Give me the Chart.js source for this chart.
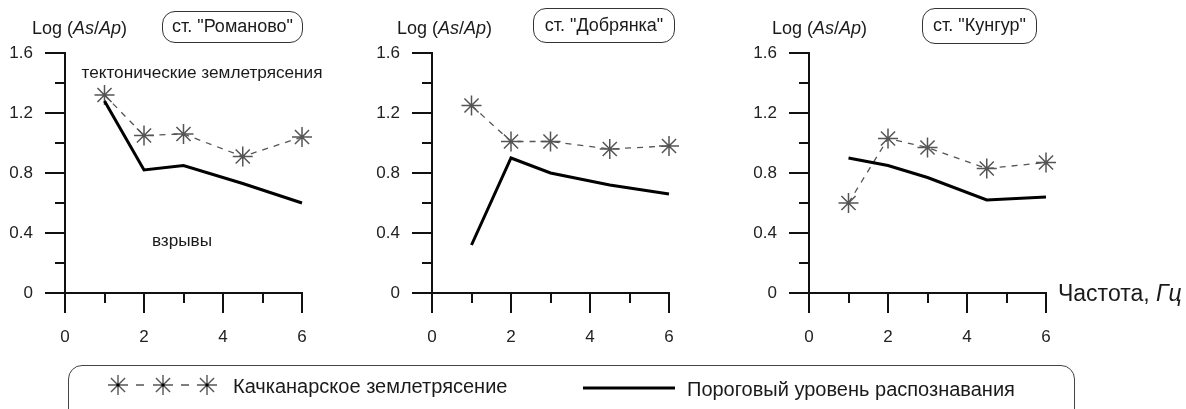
<!DOCTYPE html>
<html>
<head>
<meta charset="utf-8">
<script src="https://cdn.jsdelivr.net/npm/chart.js@4.4.0/dist/chart.umd.min.js"></script>
<style>
    body { margin: 0; background: #fff; }
    #wrap { position: relative; width: 1186px; height: 409px; overflow: hidden; font-family: "Liberation Sans", Arial, sans-serif; color: #1a1a1a; }
    canvas.panel { position: absolute; top: 0; }
    .txt { position: absolute; white-space: nowrap; }
    .ylab { font-size: 18px; line-height: 21px; top: 18px; }
    .station { position: absolute; border: 1.5px solid #333; border-radius: 13px; font-size: 18px; text-align: center; box-sizing: border-box; }
    .note { font-size: 17.2px; transform: translate(-50%, -50%); }
    #legendBox { position: absolute; left: 68px; top: 365px; width: 1007px; height: 70px; border: 1.5px solid #444; border-radius: 14px; box-sizing: border-box; }
    .leg { font-size: 20px; line-height: 24px; }
</style>
</head>
<body>
<div id="wrap">
    <canvas class="panel" id="p1" width="360" height="350" style="left:0px"></canvas>
    <canvas class="panel" id="p2" width="360" height="350" style="left:367px"></canvas>
    <canvas class="panel" id="p3" width="360" height="350" style="left:744px"></canvas>

    <div class="txt ylab" style="left:32px">Log (<i>As</i>/<i>Ap</i>)</div>
    <div class="txt ylab" style="left:397px">Log (<i>As</i>/<i>Ap</i>)</div>
    <div class="txt ylab" style="left:772px">Log (<i>As</i>/<i>Ap</i>)</div>

    <div class="station" style="left:162px; top:11px; width:141px; height:32px; line-height:29px">ст. "Романово"</div>
    <div class="station" style="left:533px; top:8px; width:142px; height:35px; line-height:32px">ст. "Добрянка"</div>
    <div class="station" style="left:922px; top:8px; width:115px; height:36px; line-height:33px">ст. "Кунгур"</div>

    <div class="txt note" style="left:202px; top:72px">тектонические землетрясения</div>
    <div class="txt note" style="left:182px; top:240px">взрывы</div>

    <div class="txt" style="left:1058px; top:279px; font-size:23px; line-height:28px">Частота, <i>Гц</i></div>

    <div id="legendBox"></div>
    <canvas id="legMarks" width="700" height="49" style="position:absolute; left:0px; top:360px"></canvas>
    <div class="txt leg" style="left:233px; top:374px">Качканарское землетрясение</div>
    <div class="txt leg" style="left:687px; top:377px">Пороговый уровень распознавания</div>
</div>

<script>
    // frequencies, Hz
    const freqs = [1, 2, 3, 4.5, 6];

    // ст. "Романово"
    const romanovoQuake = [1.32, 1.05, 1.06, 0.91, 1.04];
    const romanovoLevel = [1.28, 0.82, 0.85, 0.73, 0.60];

    // ст. "Добрянка"
    const dobryankaQuake = [1.25, 1.01, 1.01, 0.96, 0.98];
    const dobryankaLevel = [0.32, 0.90, 0.80, 0.72, 0.66];

    // ст. "Кунгур"
    const kungurQuake = [0.60, 1.03, 0.97, 0.83, 0.87];
    const kungurLevel = [0.90, 0.85, 0.77, 0.62, 0.64];

    const yTicks = [0, 0.4, 0.8, 1.2, 1.6];
    const xTicks = [0, 2, 4, 6];

    const FONT = '"Liberation Sans", Arial, sans-serif';
    const AXIS = '#111';

    function isMajorY(v) {
        return yTicks.some(t => Math.abs(t - v) < 1e-6);
    }

    function isMajorX(v) {
        return xTicks.some(t => Math.abs(t - v) < 1e-6);
    }

    function pts(values) {
        return freqs.map((f, i) => ({x: f, y: values[i]}));
    }

    // short ticks between the labelled ones
    const minorTicks = {
        id: 'minorTicks',
        afterDraw(chart) {
            const ctx = chart.ctx;
            const xs = chart.scales.x, ys = chart.scales.y;
            const area = chart.chartArea;
            ctx.save();
            ctx.strokeStyle = AXIS;
            ctx.lineWidth = 2;
            ys.ticks.forEach(t => {
                if (isMajorY(t.value)) return;
                let py = Math.round(ys.getPixelForValue(t.value));
                ctx.beginPath();
                ctx.moveTo(area.left - 10, py);
                ctx.lineTo(area.left, py);
                ctx.stroke();
            });
            xs.ticks.forEach(t => {
                if (isMajorX(t.value)) return;
                let px = Math.round(xs.getPixelForValue(t.value));
                ctx.beginPath();
                ctx.moveTo(px, area.bottom);
                ctx.lineTo(px, area.bottom + 10);
                ctx.stroke();
            });
            ctx.restore();
        }
    };

    function makePanel(id, quake, level) {
        let ctx = document.getElementById(id).getContext('2d');
        new Chart(ctx, {
            type: 'scatter',
            data: {
                datasets: [
                    {
                        label: 'level',
                        data: pts(level),
                        showLine: true,
                        borderColor: '#000',
                        borderWidth: 3,
                        pointRadius: 0,
                        tension: 0,
                        clip: false
                    },
                    {
                        label: 'quake',
                        data: pts(quake),
                        showLine: true,
                        borderColor: '#555',
                        borderWidth: 1.3,
                        borderDash: [6, 6],
                        pointStyle: 'star',
                        pointRadius: 10,
                        pointBorderWidth: 1.5,
                        pointBorderColor: '#555',
                        pointBackgroundColor: '#555',
                        tension: 0,
                        clip: false
                    },
                    {
                        label: 'dots',
                        data: pts(quake),
                        showLine: false,
                        pointStyle: 'circle',
                        pointRadius: 1.6,
                        pointBorderWidth: 0,
                        pointBackgroundColor: '#000',
                        clip: false
                    }
                ]
            },
            options: {
                responsive: false,
                animation: false,
                devicePixelRatio: 1,
                layout: {padding: {top: 53, right: 58, left: 0, bottom: 7}},
                plugins: {legend: {display: false}, tooltip: {enabled: false}},
                scales: {
                    x: {
                        type: 'linear',
                        min: 0,
                        max: 6,
                        afterFit: s => { s.height = 50; },
                        border: {display: true, color: AXIS, width: 2},
                        grid: {
                            drawOnChartArea: false,
                            drawTicks: true,
                            tickLength: 20,
                            lineWidth: 2,
                            color: c => (c.tick && isMajorX(c.tick.value)) ? AXIS : 'transparent'
                        },
                        ticks: {
                            stepSize: 1,
                            padding: 14,
                            color: '#222',
                            font: {family: FONT, size: 17},
                            callback: v => isMajorX(v) ? String(v) : ''
                        }
                    },
                    y: {
                        type: 'linear',
                        min: 0,
                        max: 1.6,
                        afterFit: s => { s.width = 65; },
                        border: {display: true, color: AXIS, width: 2},
                        grid: {
                            drawOnChartArea: false,
                            drawTicks: true,
                            tickLength: 20,
                            lineWidth: 2,
                            color: c => (c.tick && isMajorY(c.tick.value)) ? AXIS : 'transparent'
                        },
                        ticks: {
                            stepSize: 0.2,
                            padding: 12,
                            color: '#222',
                            font: {family: FONT, size: 17},
                            callback: v => isMajorY(v) ? String(Number(v.toFixed(1))) : ''
                        }
                    }
                }
            },
            plugins: [minorTicks]
        });
    }

    makePanel('p1', romanovoQuake, romanovoLevel);
    makePanel('p2', dobryankaQuake, dobryankaLevel);
    makePanel('p3', kungurQuake, kungurLevel);

    // legend symbols
    function drawStar(c, x, y, r) {
        c.strokeStyle = '#555';
        c.lineWidth = 1.4;
        c.beginPath();
        for (let k = 0; k < 4; k++) {
            let a = k * Math.PI / 4;
            c.moveTo(x - r * Math.cos(a), y - r * Math.sin(a));
            c.lineTo(x + r * Math.cos(a), y + r * Math.sin(a));
        }
        c.stroke();
        c.fillStyle = '#000';
        c.beginPath();
        c.arc(x, y, 1.6, 0, Math.PI * 2);
        c.fill();
    }

    let lg = document.getElementById('legMarks').getContext('2d');
    [118, 163, 207].forEach(x => drawStar(lg, x, 25, 10));
    lg.strokeStyle = '#555';
    lg.lineWidth = 1.6;
    lg.beginPath();
    lg.moveTo(136, 25); lg.lineTo(144, 25);
    lg.moveTo(181, 25); lg.lineTo(189, 25);
    lg.stroke();
    lg.strokeStyle = '#000';
    lg.lineWidth = 3;
    lg.beginPath();
    lg.moveTo(583, 28); lg.lineTo(675, 28);
    lg.stroke();
</script>
</body>
</html>
